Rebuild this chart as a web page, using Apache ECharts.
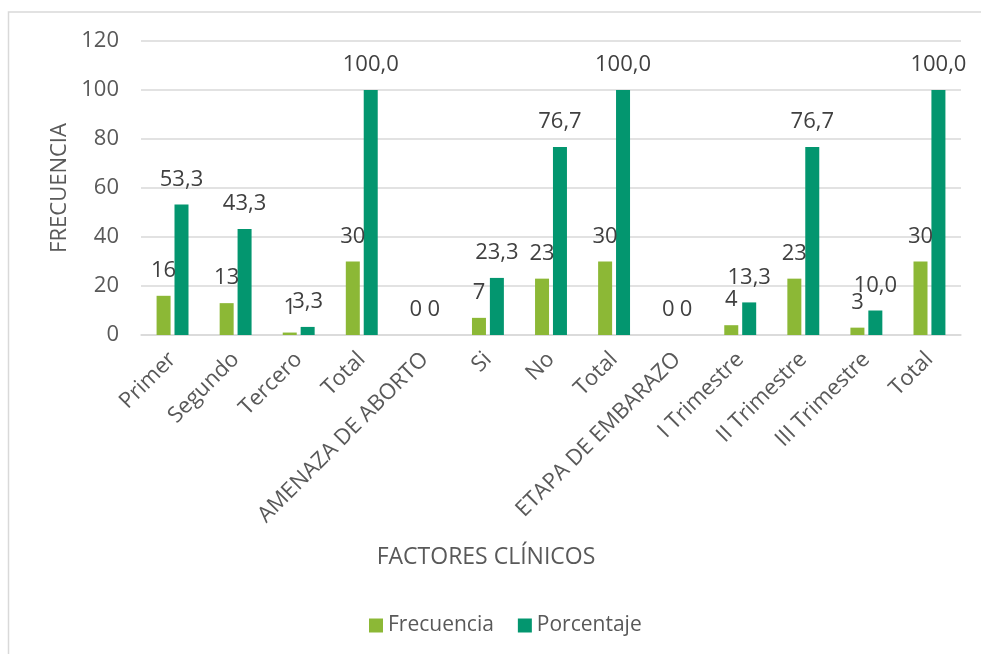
<!DOCTYPE html>
<html>
<head>
<meta charset="utf-8">
<script src="https://cdn.jsdelivr.net/npm/echarts@6/dist/echarts.min.js"></script>
<style>
  html, body { margin: 0; padding: 0; background: #fff; }
  #chart { width: 981px; height: 654px; }
</style>
</head>
<body>
<div id="chart"></div>
<script>
// Clinical factors: counts and percentages per category
const categories = [
  'Primer', 'Segundo', 'Tercero', 'Total',
  'AMENAZA DE ABORTO', 'Si', 'No', 'Total',
  'ETAPA DE EMBARAZO', 'I Trimestre', 'II Trimestre', 'III Trimestre', 'Total'
];
const frecuencia = [16, 13, 1, 30, 0, 7, 23, 30, 0, 4, 23, 3, 30];
const porcentaje = [53.3, 43.3, 3.3, 100.0, 0, 23.3, 76.7, 100.0, 0, 13.3, 76.7, 10.0, 100.0];
const yTicks = [0, 20, 40, 60, 80, 100, 120];

const FONT = '"Open Sans", "Liberation Sans", sans-serif';
const GREEN = '#8cb836';
const TEAL = '#03966f';
const TEXT = '#595959';
const LABEL = '#404040';

const chart = echarts.init(document.getElementById('chart'));

const labelBase = {
  show: true,
  position: 'top',
  distance: 14,
  color: LABEL,
  fontFamily: FONT,
  fontSize: 22
};

chart.setOption({
  animation: false,
  textStyle: { fontFamily: FONT },
  grid: { left: 141, right: 20, top: 41, bottom: 319, containLabel: false },
  legend: {
    top: 610,
    left: 364,
    itemWidth: 14,
    itemHeight: 14,
    itemGap: 24,
    icon: 'rect',
    textStyle: { color: TEXT, fontSize: 21, fontFamily: FONT },
    data: ['Frecuencia', 'Porcentaje']
  },
  xAxis: {
    type: 'category',
    data: categories,
    axisLine: { lineStyle: { color: '#d9d9d9', width: 1.5 } },
    axisTick: { show: false },
    axisLabel: {
      interval: 0,
      rotate: 45,
      margin: 21,
      color: TEXT,
      fontSize: 22,
      fontFamily: FONT
    }
  },
  yAxis: {
    type: 'value',
    min: yTicks[0],
    max: yTicks[yTicks.length - 1],
    interval: 20,
    name: 'FRECUENCIA',
    nameLocation: 'middle',
    nameGap: 68,
    nameTextStyle: { color: TEXT, fontSize: 22, fontFamily: FONT },
    axisLine: { show: false },
    axisTick: { show: false },
    axisLabel: { color: TEXT, fontSize: 22, fontFamily: FONT, margin: 22 },
    splitLine: { lineStyle: { color: '#d9d9d9', width: 1.5 } }
  },
  series: [
    {
      name: 'Frecuencia',
      type: 'bar',
      data: frecuencia,
      itemStyle: { color: GREEN },
      barWidth: 14,
      barGap: '28%',
      label: Object.assign({}, labelBase, {
        formatter: p => String(p.value)
      })
    },
    {
      name: 'Porcentaje',
      type: 'bar',
      data: porcentaje,
      itemStyle: { color: TEAL },
      barWidth: 14,
      label: Object.assign({}, labelBase, {
        formatter: p => p.value === 0 ? '0' : p.value.toFixed(1).replace('.', ',')
      })
    }
  ],
  graphic: [
    {
      type: 'text',
      x: 486,
      y: 557,
      style: {
        text: 'FACTORES CLÍNICOS', fill: TEXT, fontSize: 23, fontFamily: FONT,
        align: 'center', verticalAlign: 'middle'
      }
    },
    {
      type: 'polyline',
      shape: { points: [[8.5, 654], [8.5, 12], [981, 12]] },
      style: { stroke: '#d9d9d9', lineWidth: 1.5, fill: null }
    }
  ]
});
</script>
</body>
</html>
